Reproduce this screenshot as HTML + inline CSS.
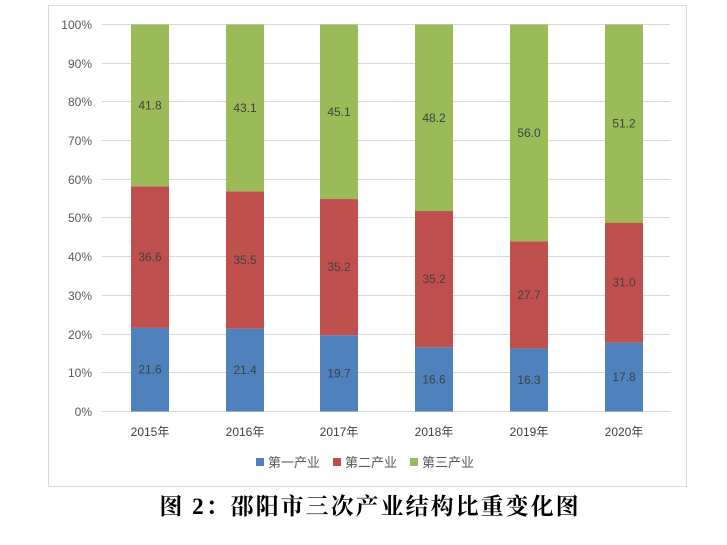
<!DOCTYPE html>
<html><head><meta charset="utf-8"><style>
body{margin:0;background:#fff;width:727px;height:540px;overflow:hidden}
text{font-family:"Liberation Sans","Noto Sans CJK SC",sans-serif}
</style></head><body>
<svg width="727" height="540" xmlns="http://www.w3.org/2000/svg">
<rect x="48.5" y="5.5" width="638" height="481" fill="#fff" stroke="#d9d9d9"/>
<g stroke="#d9d9d9" stroke-width="1">
<line x1="102" x2="670" y1="24.5" y2="24.5"/>
<line x1="102" x2="670" y1="63.5" y2="63.5"/>
<line x1="102" x2="670" y1="101.5" y2="101.5"/>
<line x1="102" x2="670" y1="140.5" y2="140.5"/>
<line x1="102" x2="670" y1="179.5" y2="179.5"/>
<line x1="102" x2="670" y1="217.5" y2="217.5"/>
<line x1="102" x2="670" y1="256.5" y2="256.5"/>
<line x1="102" x2="670" y1="295.5" y2="295.5"/>
<line x1="102" x2="670" y1="334.5" y2="334.5"/>
<line x1="102" x2="670" y1="372.5" y2="372.5"/>
<line x1="102" x2="670" y1="411.5" y2="411.5"/>
</g>
<g font-size="12" fill="#595959" text-anchor="end">
<text x="92" y="29">100%</text><text x="92" y="68">90%</text><text x="92" y="106">80%</text>
<text x="92" y="145">70%</text><text x="92" y="184">60%</text><text x="92" y="222">50%</text>
<text x="92" y="261">40%</text><text x="92" y="300">30%</text><text x="92" y="339">20%</text>
<text x="92" y="377">10%</text><text x="92" y="416">0%</text>
</g>
<g id="bars"></g>
<g font-size="12" fill="#404040" text-anchor="middle" id="lbl"></g>
<g font-size="12" fill="#404040" text-anchor="middle">
<text x="150" y="436">2015年</text><text x="245" y="436">2016年</text><text x="339" y="436">2017年</text>
<text x="434" y="436">2018年</text><text x="529" y="436">2019年</text><text x="624" y="436">2020年</text>
</g>
<g font-size="13" fill="#595959">
<rect x="256" y="458" width="8" height="8" fill="#4F81BD"/><text x="268" y="467">第一产业</text>
<rect x="333" y="458" width="8" height="8" fill="#C0504D"/><text x="345" y="467">第二产业</text>
<rect x="410" y="458" width="8" height="8" fill="#9BBB59"/><text x="422" y="467">第三产业</text>
</g>
<text x="370" y="514" text-anchor="middle" font-size="23" letter-spacing="2" font-weight="bold" fill="#000" style="font-family:'Liberation Serif','Noto Serif CJK SC',serif">图 2：邵阳市三次产业结构比重变化图</text>
</svg>
<script>
var d=[[21.6,36.6,41.8],[21.4,35.5,43.1],[19.7,35.2,45.1],[16.6,35.2,48.2],[16.3,27.7,56.0],[17.8,31.0,51.2]];
var xs=[131,226,320,415,510,605],c=["#4F81BD","#C0504D","#9BBB59"],ns="http://www.w3.org/2000/svg";
var b=document.getElementById("bars"),l=document.getElementById("lbl"),y0=411.5,k=3.87;
d.forEach(function(r,i){var s=r[0]+r[1]+r[2],cum=0;r.forEach(function(v,j){var h=v/s*100*k;var y=y0-cum-h;
var e=document.createElementNS(ns,"rect");e.setAttribute("x",xs[i]);e.setAttribute("y",y);e.setAttribute("width",38);e.setAttribute("height",h);e.setAttribute("fill",c[j]);b.appendChild(e);
var t=document.createElementNS(ns,"text");t.setAttribute("x",xs[i]+19);t.setAttribute("y",y+h/2+4);t.textContent=v.toFixed(1);l.appendChild(t);cum+=h;});});
</script>
</body></html>
